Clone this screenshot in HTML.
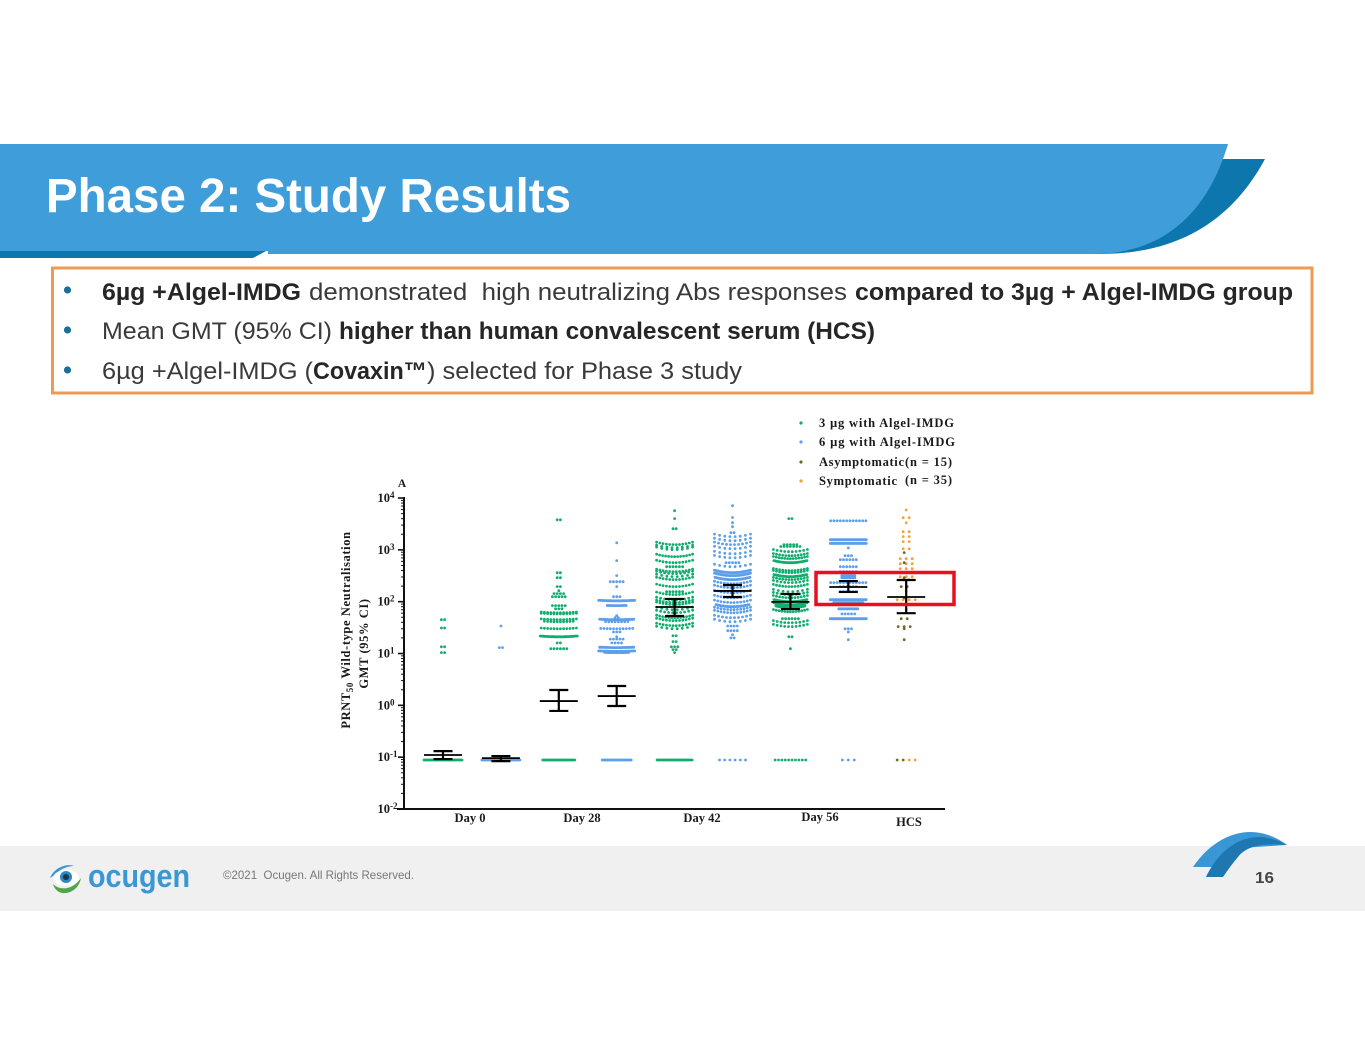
<!DOCTYPE html>
<html lang="en">
<head>
<meta charset="utf-8">
<title>Phase 2: Study Results</title>
<style>
html,body{margin:0;padding:0;background:#fff;width:1365px;height:1055px;overflow:hidden}
svg{display:block;position:absolute;left:0;top:0}
.sans{font-family:"Liberation Sans",sans-serif}
.body-text{font-family:"Liberation Sans",sans-serif;font-size:24px;fill:#3a3a3a}
.body-bold{font-family:"Liberation Sans",sans-serif;font-size:24px;font-weight:bold;fill:#262626}
.serif{font-family:"Liberation Serif",serif;font-weight:bold;fill:#1a1a1a}
</style>
</head>
<body>
<svg id="slide" xmlns="http://www.w3.org/2000/svg" width="1365" height="1055" viewBox="0 0 1365 1055">
  <rect x="0" y="0" width="1365" height="1055" fill="#ffffff"/>

  <g>
    <path d="M1215 159L1265 159C1240 205 1195 254 1100 254L1080 254L1200 200Z" fill="#0c76ad"/>
    <path d="M0 250L268 250L253 258L0 258Z" fill="#0c76ad"/>
    <path d="M0 144L1228 144C1210 205 1170 254 1093 254L268 254L268 251L0 251Z" fill="#3f9dd9"/>
    <text class="sans" x="46" y="212" font-size="48" font-weight="bold" fill="#ffffff" textLength="525" lengthAdjust="spacingAndGlyphs">Phase 2: Study Results</text>
  </g>

  <g>
    <rect x="52.5" y="268" width="1259.5" height="125" fill="#ffffff" stroke="#ef9a52" stroke-width="3"/>
    <circle cx="67.5" cy="290" r="3.6" fill="#1a6f96"/>
    <circle cx="67.5" cy="330" r="3.6" fill="#1a6f96"/>
    <circle cx="67.5" cy="370" r="3.6" fill="#1a6f96"/>
    <text class="body-bold" x="102" y="300" textLength="199" lengthAdjust="spacingAndGlyphs">6µg +Algel-IMDG</text>
    <text class="body-text" x="309" y="300" textLength="538" lengthAdjust="spacingAndGlyphs" xml:space="preserve">demonstrated  high neutralizing Abs responses</text>
    <text class="body-bold" x="855" y="300" textLength="438" lengthAdjust="spacingAndGlyphs">compared to 3µg + Algel-IMDG group</text>
    <text class="body-text" x="102" y="339" textLength="230" lengthAdjust="spacingAndGlyphs">Mean GMT (95% CI)</text>
    <text class="body-bold" x="339" y="339" textLength="536" lengthAdjust="spacingAndGlyphs">higher than human convalescent serum (HCS)</text>
    <text class="body-text" x="102" y="379" textLength="211" lengthAdjust="spacingAndGlyphs">6µg +Algel-IMDG (</text>
    <text class="body-bold" x="313" y="379" textLength="114" lengthAdjust="spacingAndGlyphs">Covaxin™</text>
    <text class="body-text" x="427" y="379" textLength="315" lengthAdjust="spacingAndGlyphs">) selected for Phase 3 study</text>
  </g>

  <g>
    <rect x="0" y="846" width="1365" height="65" fill="#f0f0f0"/>
    <g>
      <path d="M50 878C54 868 66 863 74 866C68 866 60 869 56 874Z" fill="#3a97d6"/>
      <ellipse cx="66" cy="878" rx="13" ry="8" fill="#ffffff"/>
      <circle cx="66" cy="877" r="6" fill="#2f86c4"/>
      <circle cx="66" cy="877" r="3" fill="#17384f"/>
      <path d="M53 884C60 891 73 890 81 878C79 889 70 894 62 893C57 892 54 888 53 884Z" fill="#4fa64a"/>
    </g>
    <text class="sans" x="88" y="887" font-size="32" font-weight="bold" fill="#3a97d6" textLength="102" lengthAdjust="spacingAndGlyphs">ocugen</text>
    <text class="sans" x="223" y="879" font-size="12" fill="#777777" textLength="191" lengthAdjust="spacingAndGlyphs" xml:space="preserve">©2021  Ocugen. All Rights Reserved.</text>
    <g>
      <path d="M1193 867C1210 842 1232 832 1250 832C1265 832 1278 838 1287 845L1240 848L1212 867Z" fill="#3a97d6"/>
      <path d="M1206 877C1215 858 1232 838 1258 837C1270 837 1280 841 1287 845C1265 843 1247 845 1238 857C1232 864 1227 871 1223 877Z" fill="#1f77b0"/>
    </g>
    <text class="sans" x="1255" y="883" font-size="16" font-weight="bold" fill="#444444" textLength="19" lengthAdjust="spacingAndGlyphs">16</text>
  </g>

  <g id="chart"></g>
</svg>

<script>
// ---- Chart data (titres; counts = dots sharing a swarm row) ----
const decadeExponents = [-2, -1, 0, 1, 2, 3, 4];
const minorMultipliers = [2, 3, 4, 5, 6, 7, 8, 9];
const xCategories = ["Day 0", "Day 28", "Day 42", "Day 56", "HCS"];
const legendLabels = ["3 µg with Algel-IMDG", "6 µg with Algel-IMDG", "Asymptomatic", "Symptomatic"];
const legendNotes = ["", "", "(n = 15)", "(n = 35)"];

const day0Dose3Titres = [45, 31, 13.5, 10.4, 0.088];
const day0Dose3Counts = [2, 2, 2, 2, 39];
const day0Dose6Titres = [34, 13, 0.088];
const day0Dose6Counts = [1, 2, 39];

const day28Dose3Titres = [3800, 363, 290, 195, 163, 143, 125, 84, 73, 61, 58, 45, 41, 30, 21, 16, 12.4, 0.088];
const day28Dose3Counts = [2, 2, 2, 2, 1, 4, 5, 5, 3, 12, 12, 12, 10, 12, 38, 2, 6, 33];
const day28Dose6Titres = [1370, 620, 318, 243, 195, 125, 104, 84, 54, 49, 45, 41, 30, 26, 21, 19, 16, 13, 11, 10.4, 0.088];
const day28Dose6Counts = [1, 1, 1, 5, 1, 3, 37, 20, 1, 2, 35, 8, 11, 3, 1, 5, 4, 35, 37, 25, 30];

const day42Dose3Titres = [5700, 4000, 2560, 1260, 1100, 1010, 738, 565, 473, 379, 347, 304, 266, 195, 156, 137, 109, 96, 88, 70, 61, 49, 43, 34.4, 30, 22, 17, 13.5, 11.9, 10.4, 0.088];
const day42Dose3Counts = [1, 1, 2, 12, 8, 8, 13, 12, 6, 12, 10, 8, 12, 12, 6, 12, 10, 12, 12, 8, 10, 13, 12, 12, 8, 2, 2, 3, 2, 1, 36];
const day42Dose6Titres = [7100, 4200, 3340, 2800, 2140, 1800, 1500, 1260, 1050, 840, 700, 565, 473, 363, 318, 266, 222, 186, 149, 119, 96, 80, 70, 61, 49, 41, 34, 27.6, 23, 20, 0.088];
const day42Dose6Counts = [1, 1, 1, 1, 2, 8, 8, 10, 8, 8, 8, 5, 8, 37, 37, 36, 12, 12, 12, 12, 12, 34, 12, 12, 10, 8, 4, 4, 1, 2, 6];

const day56Dose3Titres = [4000, 1260, 1160, 920, 770, 675, 565, 396, 363, 304, 266, 233, 195, 156, 137, 119, 100, 87, 77, 64, 47, 39, 33, 21, 12.4, 0.088];
const day56Dose3Counts = [2, 5, 7, 10, 12, 13, 34, 12, 12, 34, 12, 10, 12, 8, 10, 12, 34, 34, 30, 13, 6, 10, 10, 2, 1, 10];
const day56Dose6Titres = [3640, 1570, 1330, 1090, 770, 645, 473, 379, 318, 290, 233, 195, 156, 109, 96, 73, 58, 47, 30, 26, 18.5, 0.088];
const day56Dose6Counts = [12, 37, 37, 1, 3, 6, 6, 6, 14, 14, 12, 6, 6, 37, 30, 20, 5, 37, 3, 1, 1, 3];

const hcsSymptomaticTitres = [5900, 4180, 3320, 2240, 1800, 1440, 1050, 675, 540, 433, 304, 266, 160, 109, 90, 70, 0.088];
const hcsSymptomaticCounts = [1, 2, 1, 2, 2, 2, 2, 3, 3, 3, 3, 2, 1, 4, 3, 1, 2];
const hcsAsymptomaticTitres = [885, 565, 290, 195, 119, 47, 33, 30, 18.5, 0.088];
const hcsAsymptomaticCounts = [1, 1, 1, 2, 1, 2, 3, 1, 1, 2];

const groupMeans = [0.110, 0.096, 1.21, 1.51, 79, 161, 99, 192, 123];
const groupCiUpper = [0.131, 0.105, 1.98, 2.36, 113, 210, 141, 250, 262];
const groupCiLower = [0.092, 0.084, 0.78, 0.97, 53, 123, 72, 154, 60];

// ---- Scales and layout ----
const AXIS_BOTTOM = 809, PX_PER_DECADE = 51.83, AXIS_X = 404, LOD_LIMIT = 0.2;
const GREEN = "#10ad6f", BLUE = "#5c9fea", OLIVE = "#6f6a2c", ORANGE = "#f2a23c";
const SVG_NS = "http://www.w3.org/2000/svg";
const chart = document.getElementById("chart");

function yScale(v) { return AXIS_BOTTOM - (Math.log10(v) + 2) * PX_PER_DECADE; }
function columnX(i) { return 443 + i * 57.9; }

function make(tag, attrs, parent) {
  const el = document.createElementNS(SVG_NS, tag);
  for (const k in attrs) el.setAttribute(k, attrs[k]);
  parent.appendChild(el);
  return el;
}

const swarms = [
  { name: "day-0-3ug", t: day0Dose3Titres, c: day0Dose3Counts, col: 0, color: GREEN, floorPitch: 1, bend: 0 },
  { name: "day-0-6ug", t: day0Dose6Titres, c: day0Dose6Counts, col: 1, color: BLUE, floorPitch: 1, bend: 0 },
  { name: "day-28-3ug", t: day28Dose3Titres, c: day28Dose3Counts, col: 2, color: GREEN, floorPitch: 1, bend: 0.8 },
  { name: "day-28-6ug", t: day28Dose6Titres, c: day28Dose6Counts, col: 3, color: BLUE, floorPitch: 1, bend: 0.5 },
  { name: "day-42-3ug", t: day42Dose3Titres, c: day42Dose3Counts, col: 4, color: GREEN, floorPitch: 1, bend: 2.5, rowWidth: 36 },
  { name: "day-42-6ug", t: day42Dose6Titres, c: day42Dose6Counts, col: 5, color: BLUE, floorPitch: 5.2, bend: 2.5, rowWidth: 36 },
  { name: "day-56-3ug", t: day56Dose3Titres, c: day56Dose3Counts, col: 6, color: GREEN, floorPitch: 3.4, bend: 2.5, rowWidth: 34 },
  { name: "day-56-6ug", t: day56Dose6Titres, c: day56Dose6Counts, col: 7, color: BLUE, floorPitch: 6, bend: 0 },
  { name: "hcs-symptomatic", t: hcsSymptomaticTitres, c: hcsSymptomaticCounts, col: 8, color: ORANGE, floorPitch: 6, bend: 0, pitch: 6, floorShift: 6 },
  { name: "hcs-asymptomatic", t: hcsAsymptomaticTitres, c: hcsAsymptomaticCounts, col: 8, color: OLIVE, floorPitch: 6, bend: 0, pitch: 6, shift: -2, floorShift: -6 }
];

// ---- Axes ----
const axisGroup = make("g", {}, chart);



const yAxisLine = make("line", { x1: AXIS_X, x2: AXIS_X, y1: yScale(10000) - 1, y2: AXIS_BOTTOM + 1, stroke: "#111", "stroke-width": 2 }, axisGroup);



const xAxisLine = make("line", { x1: 397, x2: 945, y1: AXIS_BOTTOM, y2: AXIS_BOTTOM, stroke: "#111", "stroke-width": 2 }, axisGroup);



decadeExponents.forEach(function (exp, i) {
  const v = Math.pow(10, exp);
  const y = yScale(v);
  const tick = make("line", { x1: AXIS_X - 6, x2: AXIS_X, y1: y, y2: y, stroke: "#111", "stroke-width": 1.6 }, axisGroup);
  
  

  const label = make("text", { x: 377.5, y: y + 4, "font-size": 12.5, class: "serif" }, axisGroup);
  
  
  label.textContent = "10";
  const sup = make("tspan", { dy: -4, "font-size": 9 }, label);
  sup.textContent = String(exp);

  if (i < decadeExponents.length - 1) {
    minorMultipliers.forEach(function (m) {
      const my = yScale(v * m);
      const minor = make("line", { x1: AXIS_X - 3, x2: AXIS_X, y1: my, y2: my, stroke: "#111", "stroke-width": 1 }, axisGroup);
      
      
    });
  }
});

const categoryCentres = [470, 582, 702, 820, 909];
const categoryBaselines = [822, 822, 822, 821, 826];
xCategories.forEach(function (name, i) {
  const t = make("text", { x: categoryCentres[i], y: categoryBaselines[i], "font-size": 12.5, "text-anchor": "middle", class: "serif" }, axisGroup);
  
  
  t.textContent = name;
});

const panelLetter = make("text", { x: 402, y: 487, "font-size": 11.5, "text-anchor": "middle", class: "serif" }, axisGroup);


panelLetter.textContent = "A";

const yTitleOne = make("text", { transform: "translate(350 630) rotate(-90)", "font-size": 12.5, "text-anchor": "middle", "letter-spacing": "0.6", class: "serif" }, axisGroup);


yTitleOne.appendChild(document.createTextNode("PRNT"));
const yTitleSub = make("tspan", { dy: 3, "font-size": 9 }, yTitleOne);
yTitleSub.textContent = "50";
const yTitleRest = make("tspan", { dy: -3 }, yTitleOne);
yTitleRest.textContent = " Wild-type Neutralisation";

const yTitleTwo = make("text", { transform: "translate(368 643.5) rotate(-90)", "font-size": 12.5, "text-anchor": "middle", "letter-spacing": "0.6", "xml:space": "preserve", class: "serif" }, axisGroup);


yTitleTwo.textContent = "GMT  (95% CI)";

// ---- Swarm points ----
swarms.forEach(function (s) {
  const g = make("g", { fill: s.color }, chart);
  
  
  const cx = columnX(s.col) + (s.shift || 0);
  s.t.forEach(function (titre, row) {
    const n = s.c[row];
    const isFloor = titre < LOD_LIMIT;
    let pitch = n > 13 ? 1 : (s.pitch || 3.2);
    if (n <= 13 && n >= 8 && s.rowWidth) pitch = s.rowWidth / (n - 1);
    if (isFloor) pitch = s.floorPitch;
    const centre = isFloor && s.floorShift ? columnX(s.col) + s.floorShift : cx;
    const half = (n - 1) * pitch / 2;
    for (let k = 0; k < n; k++) {
      const off = k * pitch - half;
      const lift = (n >= 8 && !isFloor) ? s.bend * (off / 18) * (off / 18) : 0;
      const dot = make("circle", { cx: (centre + off).toFixed(1), cy: (yScale(titre) - lift).toFixed(1), r: 1.4 }, g);
      
      
    }
  });
});

// ---- Mean and CI bars ----
groupMeans.forEach(function (mean, i) {
  const g = make("g", { stroke: "#000", "stroke-width": 2.2, fill: "none" }, chart);
  
  
  const x = columnX(i);
  const yMean = yScale(mean), yHi = yScale(groupCiUpper[i]), yLo = yScale(groupCiLower[i]);
  make("line", { x1: x - 19, x2: x + 19, y1: yMean, y2: yMean, "stroke-width": 1.8 }, g);
  make("line", { x1: x, x2: x, y1: yHi, y2: yLo }, g);
  make("line", { x1: x - 9.5, x2: x + 9.5, y1: yHi, y2: yHi }, g);
  make("line", { x1: x - 9.5, x2: x + 9.5, y1: yLo, y2: yLo }, g);
});

// ---- Red highlight ----
const highlight = make("rect", { x: 816, y: 572.5, width: 138, height: 32, fill: "none", stroke: "#e8101c", "stroke-width": 3.5 }, chart);



// ---- Legend ----
const legendColors = [GREEN, BLUE, OLIVE, ORANGE];
const legendBaselines = [427, 446, 466, 485];
const legendWidths = [135, 136, 85, 78];
const legendNoteBaselines = [0, 0, 466, 484];
const legendGroup = make("g", {}, chart);


legendLabels.forEach(function (label, i) {
  const marker = make("circle", { cx: 801, cy: legendBaselines[i] - 4, r: 1.6, fill: legendColors[i] }, legendGroup);
  
  

  const t = make("text", { x: 819, y: legendBaselines[i], "font-size": 12.5, class: "serif", textLength: legendWidths[i], lengthAdjust: "spacing" }, legendGroup);
  
  
  t.textContent = label;

  if (legendNotes[i]) {
    const note = make("text", { x: 905, y: legendNoteBaselines[i], "font-size": 12.5, class: "serif", textLength: 47, lengthAdjust: "spacing" }, legendGroup);
    
    
    note.textContent = legendNotes[i];
  }
});
</script>
</body>
</html>
